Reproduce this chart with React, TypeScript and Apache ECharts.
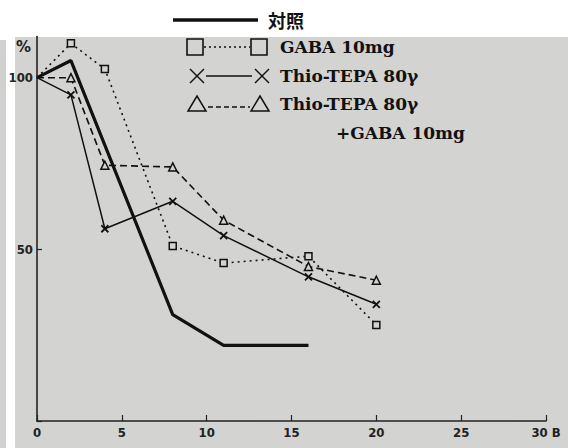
import React, { useEffect, useRef } from "react";
import * as echarts from "echarts";

const days = [0, 2, 4, 8, 11, 16, 20];
const controlDays = [0, 2, 8, 11, 16];
const control = [100, 105, 31, 22, 22];
const gaba = [100, 110, 102.5, 51, 46, 48, 28];
const thio = [100, 95, 56, 64, 54, 42, 34];
const thioGaba = [100, 100, 74.5, 74, 58.5, 45, 41];
const xTicks = [0, 5, 10, 15, 20, 25, 30];
const yTicks = [50, 100];

const crossPath = "path://M0,0L10,10M10,0L0,10";

function pairs(xs: number[], ys: number[]) {
  return xs.map((x, i) =>
    i === 0 ? { value: [x, ys[i]], symbol: "none" } : { value: [x, ys[i]] }
  );
}

const serif = "DejaVu Serif";

export default function App() {
  const ref = useRef<HTMLDivElement>(null);
  useEffect(() => {
    const chart = echarts.init(ref.current!, null, { renderer: "svg" });
    const legendText = (x: number, y: number, text: string) => ({
      type: "text",
      x,
      y,
      z: 20,
      style: { text, fill: "#111", font: `bold 17px '${serif}'`, textVerticalAlign: "middle" },
    });
    const sq = (x: number, y: number) => ({
      type: "rect",
      z: 20,
      shape: { x: x - 8, y: y - 8, width: 16, height: 16 },
      style: { fill: "none", stroke: "#111", lineWidth: 1.6 },
    });
    const cross = (x: number, y: number) => ({
      type: "group",
      z: 20,
      children: [
        { type: "line", z: 20, shape: { x1: x - 7, y1: y - 7, x2: x + 7, y2: y + 7 }, style: { stroke: "#111", lineWidth: 1.4 } },
        { type: "line", z: 20, shape: { x1: x + 7, y1: y - 7, x2: x - 7, y2: y + 7 }, style: { stroke: "#111", lineWidth: 1.4 } },
      ],
    });
    const tri = (x: number, y: number) => ({
      type: "polygon",
      z: 20,
      shape: { points: [[x - 9, y + 7], [x + 9, y + 7], [x, y - 8]] },
      style: { fill: "none", stroke: "#111", lineWidth: 1.5 },
    });
    chart.setOption({
      animation: false,
      backgroundColor: "#ffffff",
      grid: { left: 37, right: 22, top: 36.5, bottom: 27 },
      xAxis: {
        type: "value",
        min: 0,
        max: 30,
        interval: 5,
        splitLine: { show: false },
        axisLine: { onZero: false, lineStyle: { color: "#222", width: 1.6 } },
        axisTick: { inside: true, length: 6, lineStyle: { color: "#222", width: 1.2 } },
        axisLabel: {
          color: "#222",
          fontFamily: "DejaVu Sans Condensed, DejaVu Sans",
          fontSize: 13,
          fontWeight: "bold",
          margin: 5,
          formatter: (v: number) => (v === 30 ? "30 B" : String(v)),
        },
      },
      yAxis: {
        type: "value",
        min: 0,
        max: 112,
        interval: 50,
        splitLine: { show: false },
        axisLine: { lineStyle: { color: "#222", width: 1.6 } },
        axisTick: { inside: true, length: 5, lineStyle: { color: "#222", width: 1.2 } },
        axisLabel: {
          color: "#222",
          fontFamily: "DejaVu Sans Condensed, DejaVu Sans",
          fontSize: 13,
          fontWeight: "bold",
          margin: 4,
          showMaxLabel: false,
          formatter: (v: number) => (yTicks.includes(v) ? String(v) : ""),
        },
        name: "%",
        nameLocation: "end",
        nameGap: -18,
        nameTextStyle: {
          color: "#222",
          fontFamily: "DejaVu Sans",
          fontSize: 15,
          fontWeight: "bold",
          align: "right",
          padding: [0, 6, 0, 0],
        },
      },
      graphic: [
        { type: "rect", z: -10, shape: { x: 15, y: 37, width: 553, height: 411 }, style: { fill: "#d3d3d1" } },
        { type: "rect", z: -10, shape: { x: 0, y: 40, width: 6, height: 408 }, style: { fill: "#d0d0ce" } },
        { type: "line", z: 20, shape: { x1: 173, y1: 20, x2: 258, y2: 20 }, style: { stroke: "#111", lineWidth: 3.5 } },
        {
          type: "text",
          x: 268,
          y: 20,
          z: 20,
          style: { text: "対照", fill: "#111", font: "bold 18px 'Noto Sans CJK JP'", textVerticalAlign: "middle" },
        },
        sq(195, 47),
        { type: "line", z: 20, shape: { x1: 204, y1: 47, x2: 250, y2: 47 }, style: { stroke: "#111", lineWidth: 1.4, lineDash: [2, 3] } },
        sq(259, 47),
        legendText(280, 47, "GABA 10mg"),
        cross(197, 76),
        { type: "line", z: 20, shape: { x1: 206, y1: 76, x2: 252, y2: 76 }, style: { stroke: "#111", lineWidth: 1.4 } },
        cross(262, 76),
        legendText(280, 76, "Thio-TEPA 80γ"),
        tri(197, 104),
        { type: "line", z: 20, shape: { x1: 208, y1: 107, x2: 250, y2: 107 }, style: { stroke: "#111", lineWidth: 1.4, lineDash: [5, 3] } },
        tri(260, 104),
        legendText(280, 104, "Thio-TEPA 80γ"),
        legendText(336, 133, "+GABA 10mg"),
      ],
      series: [
        {
          name: "対照",
          type: "line",
          data: pairs(controlDays, control),
          symbol: "none",
          lineStyle: { color: "#111", width: 3.2 },
          z: 5,
        },
        {
          name: "GABA 10mg",
          type: "line",
          data: pairs(days, gaba),
          symbol: "rect",
          symbolSize: 7,
          itemStyle: { color: "#d3d3d1", borderColor: "#111", borderWidth: 1.5 },
          lineStyle: { color: "#111", width: 1.6, type: [2, 4] },
          z: 4,
        },
        {
          name: "Thio-TEPA 80γ",
          type: "line",
          data: pairs(days, thio),
          symbol: crossPath,
          symbolSize: 7,
          itemStyle: { color: "none", borderColor: "#111", borderWidth: 1.8 },
          lineStyle: { color: "#111", width: 1.5 },
          z: 4,
        },
        {
          name: "Thio-TEPA 80γ +GABA 10mg",
          type: "line",
          data: pairs(days, thioGaba),
          symbol: "triangle",
          symbolSize: 8,
          itemStyle: { color: "#d3d3d1", borderColor: "#111", borderWidth: 1.5 },
          lineStyle: { color: "#111", width: 1.6, type: [7, 4] },
          z: 4,
        },
      ],
    });
    return () => chart.dispose();
  }, []);
  return (
    <div
      ref={ref}
      style={{ position: "fixed", left: 0, top: 0, width: 568, height: 448 }}
    />
  );
}
